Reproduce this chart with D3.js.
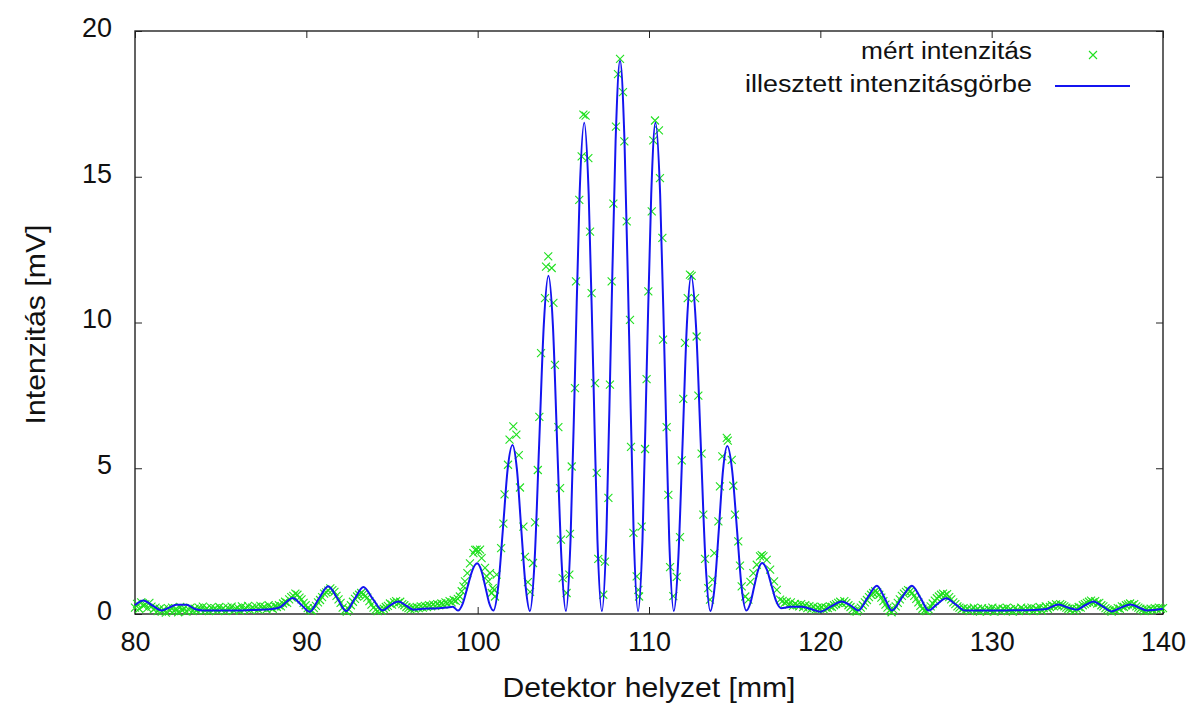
<!DOCTYPE html>
<html>
<head>
<meta charset="utf-8">
<script src="https://cdn.jsdelivr.net/npm/d3@7"></script>
<style>
    body { margin: 0; background: #fff; }
    svg text { font-family: "Liberation Sans", Arial, sans-serif; fill: #111; }
</style>
</head>
<body>
<svg id="chart"></svg>
<script>
const xTicks = [80, 90, 100, 110, 120, 130, 140]
const yTicks = [0, 5, 10, 15, 20]
const seriesNames = ['mért intenzitás', 'illesztett intenzitásgörbe']

// measured points, left tail (from 80 mm, every 0.12 mm)
const leftTailStart = 80
const leftTailY = [
    0.22, 0.35, 0.18, 0.40, 0.28, 0.33, 0.20, 0.38, 0.25, 0.15,
    0.22, 0.10, 0.18, 0.08, 0.16, 0.05, 0.20, 0.12, 0.22, 0.10,
    0.18, 0.06, 0.24, 0.12, 0.20, 0.08, 0.16, 0.22, 0.10, 0.18,
    0.12, 0.22, 0.14, 0.25, 0.12, 0.20, 0.10, 0.22, 0.15, 0.19,
    0.12, 0.24, 0.14, 0.20, 0.10, 0.22, 0.16, 0.25, 0.12, 0.18,
    0.22, 0.12, 0.26, 0.15, 0.20, 0.28, 0.14, 0.22, 0.18, 0.25,
    0.15, 0.28, 0.20, 0.24, 0.16, 0.30, 0.22, 0.18, 0.27, 0.24,
    0.30, 0.26, 0.36, 0.42, 0.38, 0.50, 0.58, 0.62, 0.70, 0.66,
    0.56, 0.50, 0.38, 0.30, 0.20, 0.14, 0.12, 0.20, 0.28, 0.40,
    0.48, 0.58, 0.70, 0.74, 0.80, 0.88, 0.82, 0.76, 0.62, 0.50,
    0.38, 0.22, 0.12, 0.08, 0.16, 0.30, 0.42, 0.52, 0.60, 0.66,
    0.72, 0.68, 0.62, 0.56, 0.44, 0.32, 0.22, 0.14, 0.10, 0.16,
    0.12, 0.18, 0.24, 0.28, 0.36, 0.32, 0.40, 0.44, 0.38, 0.42,
    0.34, 0.30, 0.24, 0.20, 0.16, 0.22, 0.18, 0.24, 0.20, 0.26,
    0.22, 0.28, 0.24, 0.30, 0.26, 0.32, 0.28, 0.34, 0.30, 0.36,
    0.32, 0.40, 0.36, 0.44, 0.40, 0.48, 0.45, 0.52, 0.60
]

// measured points around the main maxima
const centreX = [
    99.07, 99.17, 99.26, 99.40, 99.55, 99.75, 99.85, 99.94, 100.04, 100.14,
    100.23, 100.43, 100.52, 100.62, 100.72, 100.82, 100.88, 100.95, 101.01, 101.11,
    101.37, 101.50, 101.57, 101.77, 101.86, 102.08, 102.26, 102.40, 102.47, 102.67,
    102.76, 102.93, 103.06, 103.23, 103.35, 103.51, 103.60, 103.70, 103.93, 103.99,
    104.12, 104.32, 104.42, 104.51, 104.71, 104.81, 104.86, 104.96, 105.19, 105.35,
    105.39, 105.49, 105.68, 105.74, 105.93, 106.07, 106.17, 106.30, 106.46, 106.56,
    106.65, 106.85, 106.95, 107.04, 107.33, 107.43, 107.63, 107.72, 107.82, 107.92,
    108.07, 108.19, 108.31, 108.48, 108.56, 108.70, 108.89, 108.95, 109.09, 109.28,
    109.38, 109.42, 109.57, 109.77, 109.86, 109.96, 110.16, 110.25, 110.35, 110.58,
    110.64, 110.78, 110.82, 111.03, 111.13, 111.23, 111.42, 111.62, 111.81, 111.91,
    112.00, 112.10, 112.26, 112.39, 112.49, 112.69, 112.78, 112.88, 113.07, 113.17,
    113.27, 113.46, 113.56, 113.70, 113.81, 114.05, 114.14, 114.28, 114.54, 114.60,
    114.83, 114.92, 115.02, 115.21, 115.31, 115.41, 115.62, 115.80, 115.92, 116.09,
    116.29, 116.48, 116.58, 116.68, 116.87, 117.07, 117.30, 117.46, 117.65
]
const centreY = [
    0.78, 0.95, 1.12, 1.40, 1.74, 2.09, 2.20, 2.21, 2.15, 2.21,
    1.92, 1.58, 1.30, 1.12, 1.40, 0.72, 0.89, 0.83, 0.60, 1.35,
    2.26, 3.10, 4.10, 5.12, 5.98, 6.44, 6.15, 5.45, 4.34, 3.00,
    1.96, 1.09, 0.76, 1.75, 3.14, 4.94, 6.76, 8.95, 10.84, 11.92,
    12.27, 11.87, 10.67, 8.55, 6.41, 4.32, 2.55, 1.23, 0.72, 1.35,
    2.75, 5.06, 7.75, 11.41, 14.21, 15.70, 17.13, 17.10, 15.64, 13.12,
    11.01, 7.92, 4.84, 1.89, 0.66, 1.80, 3.98, 7.87, 11.41, 14.08,
    16.72, 18.52, 19.04, 17.90, 16.21, 13.47, 10.09, 5.73, 2.78, 1.29,
    0.83, 0.60, 3.00, 5.66, 8.06, 11.07, 13.81, 16.25, 16.93, 16.59,
    14.95, 12.90, 9.41, 6.41, 4.09, 1.61, 0.61, 1.27, 2.64, 5.27,
    7.38, 9.30, 10.84, 11.64, 11.60, 10.84, 9.52, 7.49, 5.50, 3.41,
    1.89, 0.89, 0.49, 1.18, 2.09, 3.18, 4.38, 5.41, 6.04, 5.95,
    5.29, 4.40, 3.41, 2.49, 1.66, 0.95, 0.60, 0.49, 1.10, 1.40,
    1.69, 1.98, 2.02, 1.98, 1.86, 1.52, 1.12, 0.83, 0.49
]

// measured points, right tail (from 117.8 mm, every 0.12 mm)
const rightTailStart = 117.8
const rightTailY = [
    0.45, 0.38, 0.42, 0.32, 0.40, 0.28, 0.35, 0.30, 0.26, 0.34,
    0.24, 0.30, 0.20, 0.27, 0.18, 0.25, 0.15, 0.22, 0.18, 0.24,
    0.16, 0.22, 0.20, 0.26, 0.24, 0.30, 0.34, 0.38, 0.42, 0.36,
    0.44, 0.38, 0.30, 0.24, 0.16, 0.10, 0.08, 0.14, 0.22, 0.30,
    0.40, 0.48, 0.58, 0.66, 0.72, 0.78, 0.74, 0.66, 0.56, 0.44,
    0.32, 0.22, 0.12, 0.06, 0.14, 0.26, 0.38, 0.50, 0.62, 0.70,
    0.76, 0.82, 0.78, 0.72, 0.62, 0.52, 0.40, 0.28, 0.18, 0.12,
    0.10, 0.16, 0.26, 0.36, 0.46, 0.54, 0.60, 0.66, 0.70, 0.64,
    0.68, 0.58, 0.50, 0.40, 0.34, 0.26, 0.22, 0.16, 0.20, 0.14,
    0.18, 0.10, 0.16, 0.22, 0.12, 0.18, 0.08, 0.20, 0.14, 0.10,
    0.18, 0.12, 0.22, 0.08, 0.16, 0.20, 0.10, 0.18, 0.14, 0.22,
    0.12, 0.17, 0.08, 0.20, 0.14, 0.10, 0.22, 0.16, 0.12, 0.19,
    0.14, 0.22, 0.10, 0.18, 0.15, 0.24, 0.12, 0.20, 0.26, 0.18,
    0.24, 0.30, 0.26, 0.33, 0.28, 0.34, 0.30, 0.26, 0.22, 0.18,
    0.14, 0.20, 0.12, 0.18, 0.24, 0.22, 0.30, 0.34, 0.38, 0.42,
    0.46, 0.40, 0.44, 0.36, 0.38, 0.30, 0.26, 0.20, 0.16, 0.12,
    0.08, 0.14, 0.12, 0.20, 0.18, 0.26, 0.24, 0.30, 0.33, 0.36,
    0.30, 0.34, 0.26, 0.22, 0.18, 0.14, 0.10, 0.16, 0.12, 0.18,
    0.14, 0.20, 0.16, 0.22, 0.18, 0.20
]
const tailStep = 0.12

const fitX = [
    80.0, 80.49, 81.0, 81.56, 82.0, 82.4, 83.0, 83.5, 84.0, 85.0,
    86.0, 87.0, 88.0, 88.5, 88.85, 89.2, 89.7, 90.2, 90.75, 91.28,
    91.8, 92.33, 92.8, 93.33, 93.9, 94.45, 94.9, 95.37, 95.8, 96.25,
    96.8, 97.5, 98.2, 98.55,
    98.85, 99.13, 99.41, 99.69, 99.97, 100.21, 100.45, 100.68, 100.92, 101.20,
    101.48, 101.75, 102.03, 102.29, 102.54, 102.80, 103.05, 103.32, 103.59, 103.86,
    104.13, 104.39, 104.64, 104.90, 105.15, 105.42, 105.69, 105.95, 106.22, 106.48,
    106.74, 106.99, 107.25, 107.52, 107.78, 108.05, 108.31, 108.57, 108.84, 109.10,
    109.36, 109.62, 109.87, 110.13, 110.38, 110.65, 110.92, 111.18, 111.45, 111.70,
    111.96, 112.21, 112.46, 112.74, 113.02, 113.30, 113.58, 113.83, 114.08, 114.32,
    114.57, 114.85, 115.13, 115.40, 115.68, 115.91, 116.14, 116.37, 116.60, 116.88,
    117.15, 117.43, 117.70,
    118.3, 118.9, 119.4, 120.0, 120.6, 121.25, 121.75, 122.22, 122.75, 123.30,
    123.75, 124.17, 124.75, 125.34, 125.85, 126.31, 126.8, 127.34, 127.9, 128.45,
    129.5, 130.5, 131.5, 132.5, 133.2, 133.9, 134.45, 134.97, 135.45, 135.94,
    136.45, 137.0, 137.55, 138.1, 138.6, 139.07, 139.5, 140.0
]
const fitY = [
    0.30, 0.46, 0.30, 0.12, 0.22, 0.32, 0.32, 0.17, 0.12, 0.12,
    0.12, 0.14, 0.17, 0.24, 0.42, 0.55, 0.32, 0.08, 0.55, 0.95,
    0.55, 0.10, 0.50, 0.93, 0.50, 0.12, 0.30, 0.43, 0.30, 0.15,
    0.18, 0.19, 0.22, 0.25,
    0.12, 0.36, 0.93, 1.50, 1.74, 1.50, 0.93, 0.36, 0.12, 0.95,
    2.96, 4.97, 5.80, 4.97, 2.95, 0.94, 0.10, 1.79, 5.85, 9.92,
    11.60, 9.92, 5.85, 1.78, 0.10, 2.55, 8.48, 14.40, 16.85, 14.40,
    8.48, 2.55, 0.10, 2.86, 9.54, 16.22, 18.98, 16.22, 9.54, 2.86,
    0.10, 2.55, 8.48, 14.40, 16.85, 14.40, 8.48, 2.55, 0.10, 1.78,
    5.85, 9.92, 11.60, 9.92, 5.85, 1.78, 0.10, 0.93, 2.93, 4.93,
    5.76, 4.94, 2.94, 0.94, 0.12, 0.36, 0.94, 1.51, 1.75, 1.52,
    0.98, 0.43, 0.20,
    0.25, 0.25, 0.18, 0.08, 0.25, 0.43, 0.30, 0.12, 0.55, 0.97,
    0.55, 0.12, 0.55, 0.97, 0.55, 0.12, 0.33, 0.54, 0.33, 0.12,
    0.12, 0.12, 0.13, 0.14, 0.17, 0.33, 0.22, 0.15, 0.30, 0.43,
    0.27, 0.09, 0.22, 0.33, 0.22, 0.12, 0.14, 0.18
]

const chartConfig = {
    width: 1194,
    height: 708,
    plot: { left: 135, right: 1163, top: 31, bottom: 614 },
    pointColor: '#1fe01f',
    lineColor: '#1414f0',
    frameColor: '#222',
}

class Chart {
    constructor(svgTag, config) {
        this.cfg = config
        this.svg = d3.select(svgTag)
            .attr('width', config.width)
            .attr('height', config.height)
        const p = config.plot
        this.x = d3.scaleLinear().domain([80, 140]).range([p.left, p.right])
        this.y = d3.scaleLinear().domain([0, 20]).range([p.bottom, p.top])
    }

    drawAxes() {
        const p = this.cfg.plot
        const tickFont = g => g.selectAll('text').style('font-size', '27px').attr('fill', '#111')
        const tickLines = g => g.selectAll('line').attr('stroke', this.cfg.frameColor)

        this.svg.append('g')
            .attr('transform', `translate(0,${p.bottom})`)
            .call(d3.axisBottom(this.x).tickValues(xTicks).tickSize(-7).tickPadding(18))
            .call(g => g.select('.domain').remove())
            .call(tickFont).call(tickLines)

        this.svg.append('g')
            .attr('transform', `translate(0,${p.top})`)
            .call(d3.axisTop(this.x).tickValues(xTicks).tickSize(-7).tickFormat(''))
            .call(g => g.select('.domain').remove())
            .call(tickLines)

        this.svg.append('g')
            .attr('transform', `translate(${p.left},0)`)
            .call(d3.axisLeft(this.y).tickValues(yTicks).tickSize(-7).tickPadding(23))
            .call(g => g.select('.domain').remove())
            .call(tickFont).call(tickLines)
            .call(g => g.selectAll('text').attr('dy', '0.2em'))

        this.svg.append('g')
            .attr('transform', `translate(${p.right},0)`)
            .call(d3.axisRight(this.y).tickValues(yTicks).tickSize(-7).tickFormat(''))
            .call(g => g.select('.domain').remove())
            .call(tickLines)

        this.svg.append('rect')
            .attr('x', p.left).attr('y', p.top)
            .attr('width', p.right - p.left).attr('height', p.bottom - p.top)
            .attr('fill', 'none')
            .attr('stroke', this.cfg.frameColor)
            .attr('stroke-width', 1.4)

        // axis titles, stretched to the widths in the original
        this.svg.append('text')
            .attr('x', (p.left + p.right) / 2).attr('y', 697)
            .attr('text-anchor', 'middle')
            .attr('textLength', 293)
            .attr('lengthAdjust', 'spacingAndGlyphs')
            .style('font-size', '28px')
            .text('Detektor helyzet [mm]')

        this.svg.append('text')
            .attr('transform', `translate(45,${(p.top + p.bottom) / 2 + 2}) rotate(-90)`)
            .attr('text-anchor', 'middle')
            .attr('textLength', 200)
            .attr('lengthAdjust', 'spacingAndGlyphs')
            .style('font-size', '28px')
            .text('Intenzitás [mV]')
    }

    drawData(points, fit) {
        const cross = 'M-4,-4L4,4M-4,4L4,-4'
        this.svg.append('g')
            .selectAll('path')
            .data(points)
            .join('path')
            .attr('d', cross)
            .attr('transform', d => `translate(${this.x(d.x)},${this.y(d.y)})`)
            .attr('fill', 'none')
            .attr('stroke', this.cfg.pointColor)
            .attr('stroke-width', 1.1)

        const line = d3.line()
            .x(d => this.x(d.x))
            .y(d => this.y(d.y))
            .curve(d3.curveMonotoneX)

        this.svg.append('path')
            .datum(fit)
            .attr('d', line)
            .attr('fill', 'none')
            .attr('stroke', this.cfg.lineColor)
            .attr('stroke-width', 2)
            .attr('stroke-linejoin', 'round')
    }

    drawLegend() {
        const g = this.svg.append('g')
        g.append('text')
            .attr('x', 1032).attr('y', 59)
            .attr('text-anchor', 'end')
            .attr('textLength', 171)
            .attr('lengthAdjust', 'spacingAndGlyphs')
            .style('font-size', '23px')
            .text(seriesNames[0])
        g.append('path')
            .attr('d', 'M-4,-4L4,4M-4,4L4,-4')
            .attr('transform', 'translate(1093,55)')
            .attr('fill', 'none')
            .attr('stroke', this.cfg.pointColor)
            .attr('stroke-width', 1.1)
        g.append('text')
            .attr('x', 1032).attr('y', 92)
            .attr('text-anchor', 'end')
            .attr('textLength', 287)
            .attr('lengthAdjust', 'spacingAndGlyphs')
            .style('font-size', '23px')
            .text(seriesNames[1])
        g.append('line')
            .attr('x1', 1055).attr('x2', 1130)
            .attr('y1', 86).attr('y2', 86)
            .attr('stroke', this.cfg.lineColor)
            .attr('stroke-width', 2)
    }
}

const measured = [
    ...leftTailY.map((v, i) => ({ x: leftTailStart + i * tailStep, y: v })),
    ...centreX.map((v, i) => ({ x: v, y: centreY[i] })),
    ...rightTailY.map((v, i) => ({ x: rightTailStart + i * tailStep, y: v })),
]
const fitted = fitX.map((v, i) => ({ x: v, y: fitY[i] }))

const chart = new Chart('#chart', chartConfig)
chart.drawAxes()
chart.drawData(measured, fitted)
chart.drawLegend()
</script>
</body>
</html>
